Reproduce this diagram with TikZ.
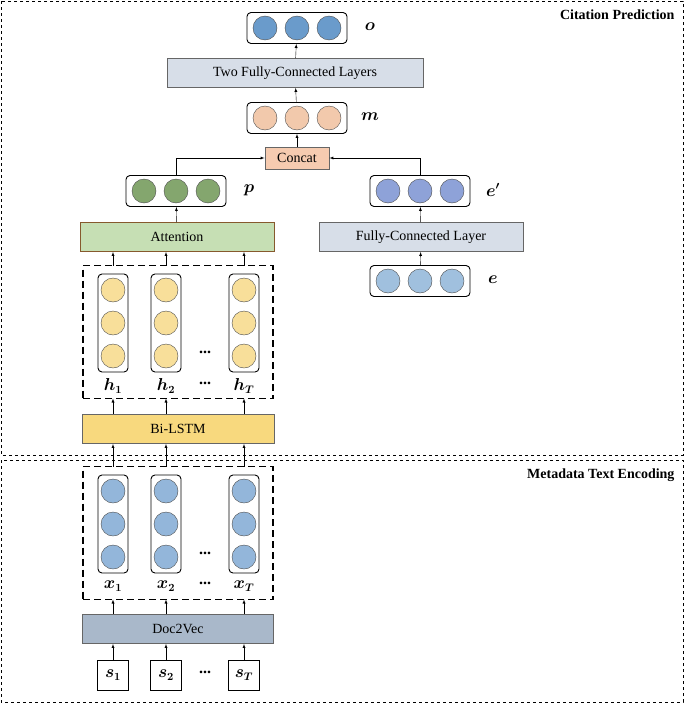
\documentclass[tikz,border=0pt]{standalone}
\usepackage{tikz}
\usepackage{bm}
\usepackage{fontspec}
\setmainfont{Liberation Serif}
\usetikzlibrary{positioning}
\definecolor{outC}{HTML}{6A9BCB}
\definecolor{mC}{HTML}{F2C9AC}
\definecolor{pC}{HTML}{84A66E}
\definecolor{epC}{HTML}{8EA2D8}
\definecolor{eC}{HTML}{A0C0DE}
\definecolor{hC}{HTML}{F8DF9A}
\definecolor{xC}{HTML}{93B6DA}
\definecolor{fcC}{HTML}{D7DEE8}
\definecolor{attC}{HTML}{C6DFB4}
\definecolor{lstmC}{HTML}{F8D97E}
\definecolor{d2vC}{HTML}{A9B8CA}
\definecolor{catC}{HTML}{F6CBB0}
\begin{document}
\begin{tikzpicture}[x=1pt, y=-1pt, >=latex,
  layer/.style={draw=black!60, line width=0.9pt, minimum height=29pt, inner sep=0pt, font=\fontsize{14}{16}\selectfont},
  vec/.style={draw, line width=0.9pt, rounded corners=4pt, minimum width=100pt, minimum height=31pt},
  col/.style={draw, line width=0.9pt, rounded corners=4pt, minimum width=30pt, minimum height=98pt},
  unit/.style={circle, draw=black!70, minimum size=24pt, inner sep=0pt},
  lbl/.style={font=\fontsize{16}{18}\selectfont},
  sec/.style={draw, dashed, thin},
  grp/.style={draw, line width=1.1pt, dash pattern=on 7pt off 4pt},
  dots/.style={font=\fontsize{16}{18}\selectfont\bfseries}]
\useasboundingbox (0,0) rectangle (685,704);
% sections
\draw[sec] (1,1) rectangle (683,455);
\draw[sec] (1,460) rectangle (683,702);
\node[anchor=east, font=\fontsize{14}{16}\selectfont\bfseries] at (678,15) {Citation Prediction};
\node[anchor=east, font=\fontsize{14}{16}\selectfont\bfseries] at (678,475) {Metadata Text Encoding};
% vectors
\foreach \n/\x/\y/\c/\t in {o/297/28/outC/o, m/297/118/mC/m, p/176/191/pC/p, ep/420/191/epC/e', e/420/281/eC/e}{
  \node[vec] (\n) at (\x,\y) {};
  \foreach \k in {-1,0,1} \node[unit, fill=\c] at (\x+\k*32,\y) {};
  \node[lbl] at (\x+73,\y-1) {$\bm{\t}$};
}
% layers
\node[layer, fill=fcC, minimum width=256pt] (two) at (295,73) {Two Fully-Connected Layers};
\node[layer, fill=catC, minimum width=64pt, minimum height=22pt] (cat) at (297,158) {Concat};
\node[layer, draw=brown!70!black, fill=attC, minimum width=194pt] (att) at (177,237) {Attention};
\node[layer, fill=fcC, minimum width=204pt] (fc) at (421,237) {Fully-Connected Layer};
\node[layer, fill=lstmC, minimum width=192pt] (lstm) at (178,429) {Bi-LSTM};
\node[layer, fill=d2vC, minimum width=191pt] (d2v) at (178,629) {Doc2Vec};
% hidden and input columns
\node[grp, minimum width=190pt, minimum height=133pt] (hbox) at (178,332) {};
\node[grp, minimum width=190pt, minimum height=133pt] (xbox) at (178,533) {};
\foreach \i/\x/\s in {1/113/1, 2/166/2, 3/244/T}{
  \node[col] (h\i) at (\x,323) {};
  \node[col] (x\i) at (\x,524) {};
  \foreach \k in {-1,0,1}{
    \node[unit, fill=hC] at (\x,323+\k*33) {};
    \node[unit, fill=xC] at (\x,524+\k*33) {};
  }
  \node[lbl] at (\x,386) {$\bm{h_{\s}}$};
  \node[lbl] at (\x,586) {$\bm{x_{\s}}$};
  \node[draw, line width=0.9pt, minimum width=31pt, minimum height=30pt, lbl] (s\i) at (\x,675) {$\bm{s_{\s}}$};
  \coordinate (ht\i) at (\x,265.5);
  \coordinate (hb\i) at (\x,398.5);
  \coordinate (xt\i) at (\x,466.5);
  \coordinate (xb\i) at (\x,599.5);
  \draw[->] (ht\i) -- (ht\i |- att.south);
  \draw[->] (lstm.north -| hb\i) -- (hb\i);
  \draw[->] (xt\i) -- (xt\i |- lstm.south);
  \draw[->] (d2v.north -| xb\i) -- (xb\i);
  \draw[->] (s\i) -- (s\i |- d2v.south);
}
\foreach \y in {355,386,556,586,675} \node[dots] at (205,\y-3) {...};
% connectors
\draw[->] (two) -- (o);
\draw[->] (m) -- (two);
\draw[->] (cat) -- (m);
\draw[->] (p.north) |- (cat.west);
\draw[->] (ep.north) |- (cat.east);
\draw[->] (att) -- (p);
\draw[->] (fc) -- (ep);
\draw[->] (e) -- (fc);
\end{tikzpicture}
\end{document}
